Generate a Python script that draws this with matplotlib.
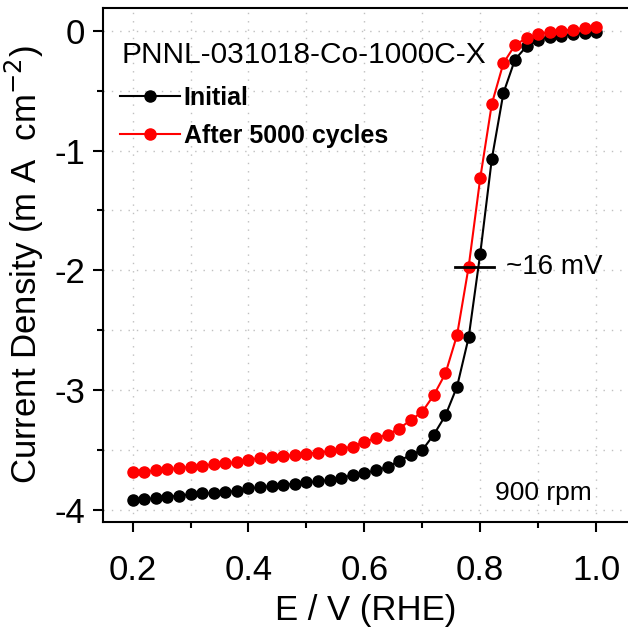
import matplotlib
matplotlib.use("Agg")
import matplotlib.pyplot as plt
import numpy as np

plt.rcParams['font.family'] = ['Liberation Sans', 'DejaVu Sans']

# potential (V vs RHE), 20 mV steps
E = [0.20, 0.22, 0.24, 0.26, 0.28, 0.30, 0.32, 0.34, 0.36, 0.38,
     0.40, 0.42, 0.44, 0.46, 0.48, 0.50, 0.52, 0.54, 0.56, 0.58,
     0.60, 0.62, 0.64, 0.66, 0.68, 0.70, 0.72, 0.74, 0.76, 0.78,
     0.80, 0.82, 0.84, 0.86, 0.88, 0.90, 0.92, 0.94, 0.96, 0.98, 1.00]

j_initial = [-3.92, -3.91, -3.90, -3.89, -3.88, -3.87, -3.86, -3.86, -3.85, -3.84,
             -3.82, -3.81, -3.80, -3.79, -3.78, -3.77, -3.76, -3.75, -3.73, -3.71,
             -3.69, -3.67, -3.64, -3.59, -3.54, -3.50, -3.37, -3.21, -2.97, -2.56,
             -1.86, -1.07, -0.52, -0.24, -0.13, -0.08, -0.05, -0.04, -0.03, -0.02, -0.01]

j_after = [-3.68, -3.68, -3.67, -3.66, -3.65, -3.64, -3.63, -3.62, -3.61, -3.60,
           -3.58, -3.57, -3.56, -3.55, -3.54, -3.53, -3.52, -3.51, -3.49, -3.47,
           -3.43, -3.40, -3.37, -3.32, -3.25, -3.18, -3.04, -2.86, -2.54, -1.97,
           -1.23, -0.61, -0.27, -0.12, -0.06, -0.03, -0.01, 0.00, 0.01, 0.02, 0.03]

half_wave_j = -1.97
shift_x = [0.756, 0.824]

fig = plt.figure(figsize=(6.28, 6.40), dpi=100)
ax = fig.add_axes([103/628, 1 - 522/640, 1 - 103/628, (522 - 8)/640])

ax.plot(E, j_initial, '-o', color='black', lw=1.5, ms=8, label='Initial', zorder=3)
ax.plot(E, j_after, '-o', color='red', lw=1.5, ms=8, label='After 5000 cycles', zorder=3)

ax.plot(shift_x, [half_wave_j, half_wave_j], color='black', lw=2, zorder=4)
ax.text(0.845, half_wave_j, '~16 mV', fontsize=20, va='center', ha='left')
ax.text(0.181, -0.20, 'PNNL-031018-Co-1000C-X', fontsize=21.5, va='center', ha='left')
ax.text(0.993, -3.86, '900 rpm', fontsize=19, va='center', ha='right')

ax.set_xlim(0.149, 1.055)
ax.set_ylim(-4.1, 0.19)
ax.set_xticks([0.2, 0.4, 0.6, 0.8, 1.0])
ax.set_xticklabels(['0.2', '0.4', '0.6', '0.8', '1.0'])
ax.set_xticks([0.3, 0.5, 0.7, 0.9], minor=True)
ax.set_yticks([0, -1, -2, -3, -4])
ax.set_yticklabels(['0', '-1', '-2', '-3', '-4'])
ax.set_yticks([-0.5, -1.5, -2.5, -3.5], minor=True)

ax.grid(True, which='both', color='#c0c0c0', linestyle=(0, (1, 5)), lw=1)
ax.set_axisbelow(True)

ax.tick_params(axis='both', which='major', direction='out', length=7, width=1.5, labelsize=25, pad=6)
ax.tick_params(axis='x', which='major', pad=16)
ax.tick_params(axis='both', which='minor', direction='out', length=4, width=1.5)
for s in ['left', 'bottom', 'top']:
    ax.spines[s].set_linewidth(1.5)
ax.spines['right'].set_visible(False)

ax.set_xlabel('E / V (RHE)', fontsize=25, labelpad=5)
ax.set_ylabel('Current Density (m A  cm$^{-2}$)', fontsize=25, labelpad=6)

leg = ax.legend(loc='upper left', bbox_to_anchor=(120/628, 1 - 86/640),
                bbox_transform=fig.transFigure, frameon=False,
                prop={'weight': 'bold', 'size': 18}, handlelength=2.4,
                handletextpad=0.15, labelspacing=0.55, borderpad=0, borderaxespad=0)

fig.savefig('out.png', dpi=100)
